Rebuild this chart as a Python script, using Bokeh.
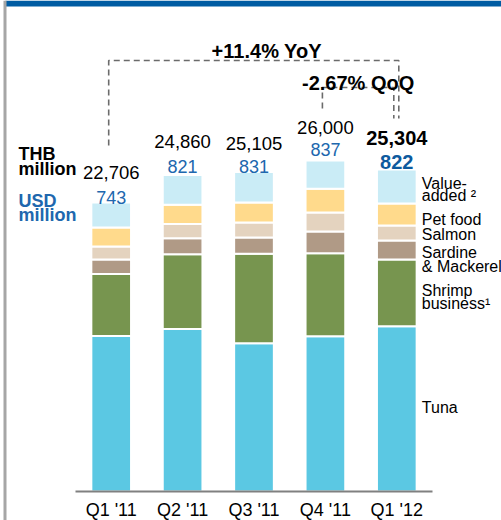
from bokeh.plotting import figure
from bokeh.models import ColumnDataSource, Range1d, Label, BoxAnnotation, FixedTicker
from bokeh.embed import file_html
from bokeh.resources import INLINE

# ---------------- data ----------------
quarters = ["Q1 '11", "Q2 '11", "Q3 '11", "Q4 '11", "Q1 '12"]
tuna = [12214, 12764, 11649, 12191, 12976]
shrimp = [4870, 5875, 7022, 6528, 5247]
sardine = [1139, 1257, 1280, 1705, 1492]
salmon = [1021, 1115, 1178, 1492, 1178]
pet_food = [1492, 1508, 1571, 1862, 1728]
value_added = [1970, 2341, 2405, 2222, 2683]
totals_thb = [22706, 24860, 25105, 26000, 25304]
totals_usd = [743, 821, 831, 837, 822]
yoy_text = "+11.4% YoY"
qoq_text = "-2.67% QoQ"

# ---------------- style ----------------
FONT = "Liberation Sans"
W, H = 501, 520
LEFT, RIGHT, BOTTOM = 75, 69, 29          # room around the bars, pixels
BASE = H - BOTTOM                          # page y of the baseline
Y_MAX = 38570
PX = Y_MAX / BASE                          # data units per pixel
N = len(quarters)
UNIT = (W - LEFT - RIGHT) / N              # pixels per category
colors = ["#5BC8E3", "#77954F", "#B09A86", "#E4D3BF", "#FFDA8C", "#CAECF6"]
BLUE = "#2067AE"
BLUE_BOLD = "#0D5A9E"
DASH_COLOR = "#6b6b6b"

p = figure(width=W, height=H,
           x_range=Range1d(-LEFT / UNIT, N + RIGHT / UNIT),
           y_range=Range1d(-BOTTOM * PX, Y_MAX),
           output_backend="svg", toolbar_location=None,
           min_border_left=0, min_border_right=0, min_border_top=0, min_border_bottom=0)
p.outline_line_color = None
p.xgrid.visible = False
p.ygrid.visible = False
p.yaxis.visible = False
p.background_fill_color = "white"
p.border_fill_color = "white"

centers = [i + 0.5 for i in range(N)]
ax = p.xaxis[0]
ax.fixed_location = 0
ax.bounds = (0, N)
ax.ticker = FixedTicker(ticks=centers)
ax.major_label_overrides = {c: q for c, q in zip(centers, quarters)}
ax.axis_line_color = "#808080"
ax.axis_line_width = 2
ax.major_tick_line_color = None
ax.minor_tick_line_color = None
ax.major_tick_out = 0
ax.major_tick_in = 0
ax.minor_tick_out = 0
ax.minor_tick_in = 0
ax.major_label_text_font = FONT
ax.major_label_text_font_size = "18px"
ax.major_label_text_color = "black"
ax.major_label_standoff = 8

src = ColumnDataSource(dict(x=centers, tuna=tuna, shrimp=shrimp, sardine=sardine,
                            salmon=salmon, pet=pet_food, va=value_added))
p.vbar_stack(["tuna", "shrimp", "sardine", "salmon", "pet", "va"], x="x", width=0.556,
             fill_color=colors, line_color="white", line_width=2, source=src)


def cx(i, dx_px=0.0):
    return i + 0.5 + dx_px / UNIT


def lab(text, x, y, x_off=0, y_off=0, size="18px", bold=False, color="black", align="center"):
    p.add_layout(Label(x=x, y=y, x_offset=x_off, y_offset=y_off, text=text,
                       text_font=FONT, text_font_size=size,
                       text_font_style="bold" if bold else "normal",
                       text_color=color, text_align=align, text_baseline="alphabetic"))


# totals above bars
thb_off = [30, 34, 28, 33, 31]
usd_off = [5, 9, 5, 11, 7]
last = N - 1
for i, (t, u) in enumerate(zip(totals_thb, totals_usd)):
    b = i == last
    lab(f"{t:,}", cx(i), t, y_off=thb_off[i], size="20px" if b else "18.5px", bold=b)
    lab(f"{u:,}", cx(i), t, y_off=usd_off[i], size="20px" if b else "18px", bold=b,
        color=BLUE_BOLD if b else BLUE)

# unit labels on the left
ux = 18 - (LEFT + UNIT / 2)
lab("THB", cx(0), 0, x_off=ux, y_off=BASE - 153.3, size="18px", bold=True, align="left")
lab("million", cx(0), 0, x_off=ux, y_off=BASE - 168.3, size="18px", bold=True, align="left")
lab("USD", cx(0), 0, x_off=ux, y_off=BASE - 200, size="18px", bold=True, color=BLUE, align="left")
lab("million", cx(0), 0, x_off=ux, y_off=BASE - 214.5, size="18px", bold=True, color=BLUE, align="left")

# segment labels beside the last bar
stack = [tuna[last], shrimp[last], sardine[last], salmon[last], pet_food[last], value_added[last]]
mids = []
acc = 0
for v in stack:
    mids.append(acc + v / 2)
    acc += v
seg_lines = [
    [("Tuna", 1)],
    [("Shrimp", 2.4), ("business\u00b9", -11)],
    [("Sardine", -2), ("& Mackerel", -16)],
    [("Salmon", -1)],
    [("Pet food", -5)],
    [("Value-", 3), ("added \u00b2", -9)],
]
for m, lines in zip(mids, seg_lines):
    for txt, off in lines:
        lab(txt, cx(last), m, x_off=25, y_off=off, size="16px", align="left")

# YoY / QoQ brackets
top_total = max(totals_thb)
yoy_y = top_total + 100 * PX
qoq_y = top_total + 73 * PX
p.line([cx(0, -2.5), cx(0, -2.5), cx(last, 2), cx(last, 2)],
       [totals_thb[0] + 57 * PX, yoy_y, yoy_y, totals_thb[last] + 51 * PX],
       line_color=DASH_COLOR, line_width=1.6, line_dash="6 4")
p.line([cx(3, -3), cx(3, -3), cx(last, -3), cx(last, -3)],
       [totals_thb[3] + 52 * PX, qoq_y, qoq_y, totals_thb[last] + 51 * PX],
       line_color=DASH_COLOR, line_width=1.6, line_dash="6 4")
lab(yoy_text, (cx(0, -2.5) + cx(last, 2)) / 2, yoy_y, x_off=13, y_off=10, size="20px", bold=True)
lab(qoq_text, (cx(3, -3) + cx(last, -3)) / 2, qoq_y, y_off=5, size="20px", bold=True)

# frame decorations: top band and left border
p.add_layout(BoxAnnotation(left=5, right=W, top=0, bottom=6, left_units="canvas", right_units="canvas",
                           top_units="canvas", bottom_units="canvas", fill_color="#005CA3",
                           fill_alpha=1, line_color=None))
p.add_layout(BoxAnnotation(left=3, right=6, top=0, bottom=H, left_units="canvas", right_units="canvas",
                           top_units="canvas", bottom_units="canvas", fill_color="#A6A6A6",
                           fill_alpha=1, line_color=None))

open("out.html", "w").write(file_html(p, INLINE))
